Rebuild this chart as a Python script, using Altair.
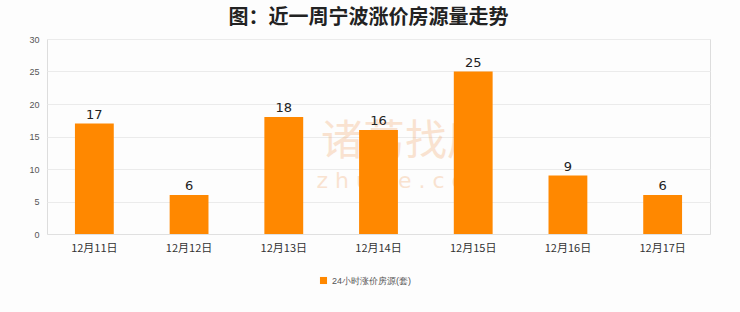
import altair as alt
import pandas as pd

dates = ["12月11日", "12月12日", "12月13日", "12月14日", "12月15日", "12月16日", "12月17日"]
values = [17, 6, 18, 16, 25, 9, 6]
series_name = "24小时涨价房源(套)"

df = pd.DataFrame({"date": dates, "value": values, "series": [series_name] * len(dates)})

FONT = "Noto Sans CJK SC"

x_enc = alt.X("date:N", sort=dates, title=None,
              scale=alt.Scale(paddingInner=0.59, paddingOuter=0.295),
              axis=alt.Axis(labelAngle=0, labelFontSize=11, labelColor="#333333",
                            labelFont=FONT, ticks=False, domain=True, domainColor="#e0e0e0",
                            labelPadding=8, grid=False))
y_enc = alt.Y("value:Q", title=None,
              scale=alt.Scale(domain=[0, 30]),
              axis=alt.Axis(values=[0, 5, 10, 15, 20, 25, 30], labelFontSize=9,
                            labelColor="#555555", ticks=False, domain=False, labelOverlap=False,
                            gridColor="#ebebeb", labelPadding=8))

# faint watermark
wm_df = pd.DataFrame({"t": ["诸葛找房"], "u": ["z h u g e . c o m"]})
wm1 = alt.Chart(wm_df).mark_text(fontSize=42, font=FONT, color="#f0a060", opacity=0.28,
                                 align="center", baseline="middle").encode(
    x=alt.value(358), y=alt.value(103), text="t:N")
wm2 = alt.Chart(wm_df).mark_text(fontSize=22, font="DejaVu Sans", color="#f0a060", opacity=0.28,
                                 align="center", baseline="middle").encode(
    x=alt.value(358), y=alt.value(142), text="u:N")

bars = alt.Chart(df).mark_bar(color="#ff8800").encode(
    x=x_enc, y=y_enc,
    color=alt.Color("series:N", scale=alt.Scale(range=["#ff8800"]),
                    legend=alt.Legend(title=None, orient="none", legendX=272, legendY=42 + 195,
                                      symbolType="square", symbolSize=50, labelFontSize=9,
                                      labelColor="#555555", direction="horizontal",
                                      symbolStrokeWidth=0)))

labels = alt.Chart(df).mark_text(dy=-2, fontSize=13, color="#222222", font="DejaVu Sans",
                                 baseline="bottom").encode(
    x=x_enc, y=y_enc, text="value:Q")

chart = alt.layer(wm1, wm2, bars, labels).properties(
    width=663, height=195,
    title=alt.TitleParams("图：近一周宁波涨价房源量走势", fontSize=20, font=FONT,
                          fontWeight="bold", color="#222222", anchor="middle",
                          offset=7, dx=-10),
    autosize=alt.AutoSizeParams(type="none"),
    padding={"left": 47, "top": 39, "right": 30, "bottom": 78},
).configure_view(stroke="#e0e0e0", strokeWidth=1).configure(background="#fdfdfd")

chart.save("out.html", embed_options={"renderer": "svg", "actions": False})
